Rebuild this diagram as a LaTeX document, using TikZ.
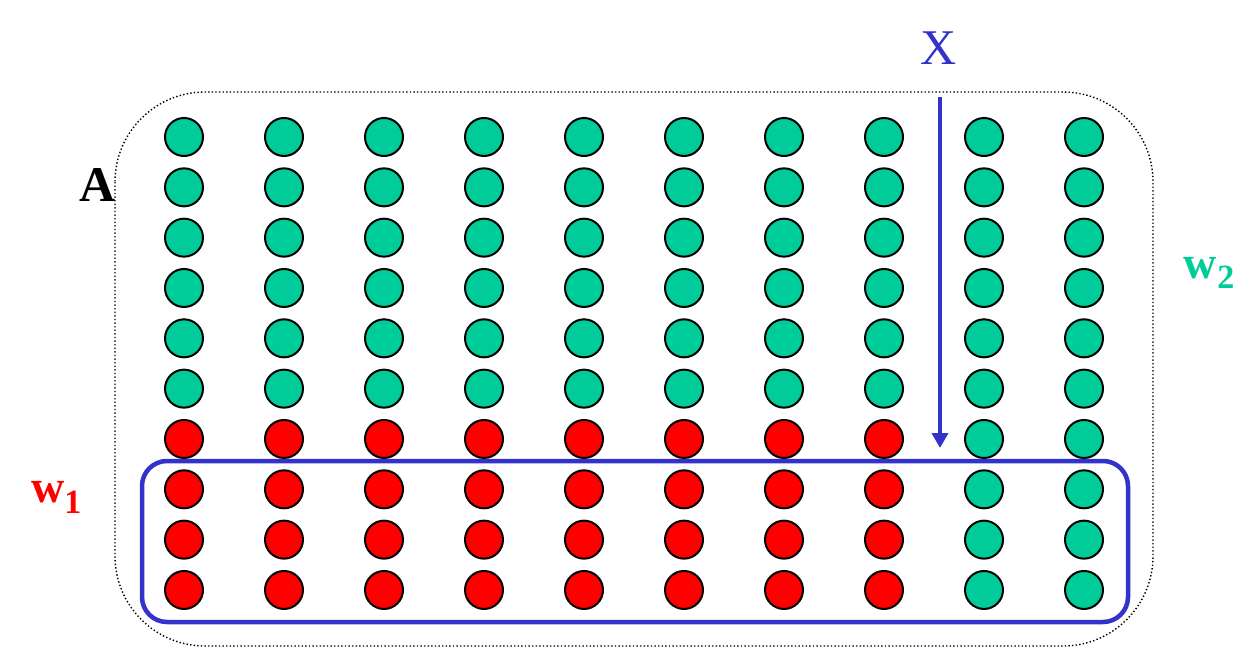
\documentclass[tikz,border=0pt]{standalone}
\usepackage{fontspec}
\setmainfont{Liberation Serif}
\usetikzlibrary{arrows.meta}
\definecolor{dotgreen}{RGB}{0,204,153}
\definecolor{dotred}{RGB}{255,0,0}
\definecolor{boxblue}{RGB}{51,51,204}
\tikzset{
  ball/.style={circle,draw=black,line width=2pt,minimum size=38pt,inner sep=0pt},
  greenball/.style={ball,fill=dotgreen},
  redball/.style={ball,fill=dotred},
  outerbox/.style={draw=black,line width=1.4pt,dash pattern=on 1.4pt off 2.2pt,rounded corners=90pt},
  bluebox/.style={draw=boxblue,line width=4.5pt,rounded corners=25pt},
  bluearrow/.style={draw=boxblue,line width=4pt,-{Triangle[width=16pt,length=15pt]}},
  lbl/.style={inner sep=0pt,font=\fontsize{50}{50}\selectfont\bfseries},
  wlbl/.style={inner sep=0pt,font=\fontsize{46}{46}\selectfont\bfseries,anchor=base west}
}
\begin{document}
\begin{tikzpicture}[x=1pt,y=-1pt]
\useasboundingbox (0,0) rectangle (1253,648);
% outer dotted region A
\draw[outerbox] (115,92) rectangle (1153,646);
% circles
\foreach \i in {0,...,9}{
  \foreach \j in {0,...,9}{
    \pgfmathsetmacro{\cx}{184+100*\i}
    \pgfmathsetmacro{\cy}{137+50.33*\j}
    \pgfmathtruncatemacro{\isred}{(\i<8)&&(\j>5)}
    \ifnum\isred=1
      \node[redball] (c-\i-\j) at (\cx,\cy) {};
    \else
      \node[greenball] (c-\i-\j) at (\cx,\cy) {};
    \fi
  }
}
% blue box w1
\draw[bluebox] (142,461) rectangle (1128,622);
% arrow X
\node[inner sep=0pt,text=boxblue,font=\fontsize{50}{50}\selectfont] (xlab) at (939,48) {X};
\coordinate (xstart) at (940,97);
\coordinate (xend) at (940,448);
\draw[bluearrow] (xstart) -- (xend);
% labels
\node[lbl,text=black] (alab) at (97.5,185) {A};
\node[wlbl,text=dotred] (w1) at (31,502) {w\raisebox{-11pt}{\fontsize{34}{34}\selectfont 1}};
\node[wlbl,text=dotgreen] (w2) at (1183,278) {w\kern1pt\raisebox{-10pt}{\fontsize{34}{34}\selectfont 2}};
\end{tikzpicture}
\end{document}
